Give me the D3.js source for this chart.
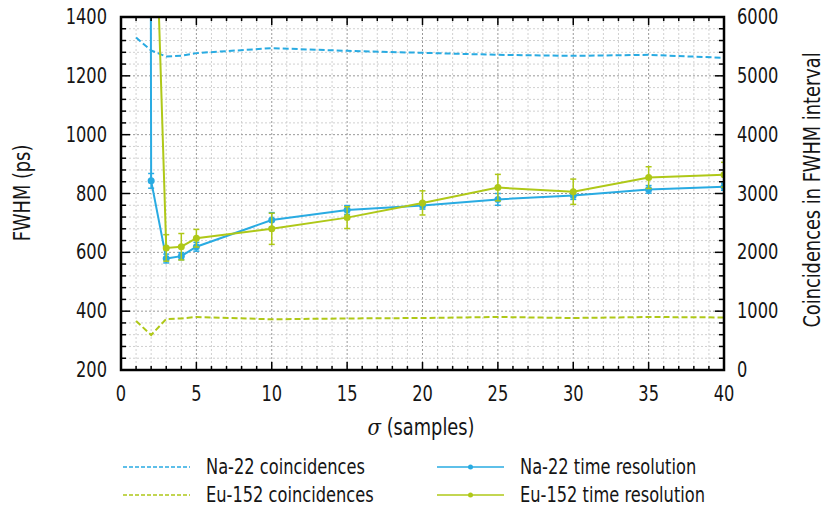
<!DOCTYPE html>
<html>
<head>
<meta charset="utf-8">
<script src="https://cdnjs.cloudflare.com/ajax/libs/d3/7.8.5/d3.min.js"></script>
<style>
  body { margin: 0; background: #fff; }
  svg text { font-family: "DejaVu Sans Condensed", "DejaVu Sans", sans-serif; fill: #151515; font-size: 21px; }
</style>
</head>
<body>
<div id="chart"></div>
<script>
// sigma values (samples)
var sigma = [1, 2, 3, 4, 5, 10, 15, 20, 25, 30, 35, 40];
// time resolution FWHM (ps) with error bars
var naRes    = [30000, 843, 579, 587, 619, 710, 744, 759, 780, 793, 814, 823];
var naResErr = [0, 25, 15, 12, 15, 25, 15, 12, 20, 13, 13, 12];
var euRes    = [30000, 2250, 615, 619, 648, 680, 718, 768, 820, 806, 854, 864];
var euResErr = [0, 0, 45, 45, 30, 53, 37, 41, 45, 43, 37, 42];
// coincidences in FWHM interval
var naCoinc = [5651, 5430, 5329, 5340, 5386, 5471, 5425, 5391, 5357, 5340, 5357, 5306];
var euCoinc = [833, 595, 867, 876, 901, 862, 876, 884, 901, 884, 901, 893];

var xTicks = [0, 5, 10, 15, 20, 25, 30, 35, 40];
var yTicks = [200, 400, 600, 800, 1000, 1200, 1400];
var y2Ticks = [0, 1000, 2000, 3000, 4000, 5000, 6000];

var blue = "#29abe2", green = "#afc818";
var sx = 0.86; // narrow the font to look condensed

var W = 827, H = 513;
var margin = {top: 17, left: 121, right: 103, bottom: 143};
var width = W - margin.left - margin.right,
    height = H - margin.top - margin.bottom;

var svg = d3.select("#chart").append("svg")
  .attr("width", W).attr("height", H);

var g = svg.append("g")
  .attr("transform", "translate(" + margin.left + "," + margin.top + ")");

var x = d3.scaleLinear().domain([0, 40]).range([0, width]);
var y = d3.scaleLinear().domain([200, 1400]).range([height, 0]);
var y2 = d3.scaleLinear().domain([0, 6000]).range([height, 0]);

function place(px, py, rot) {
  return "translate(" + px + "," + py + ")" + (rot ? " rotate(" + rot + ")" : "") + " scale(" + sx + ",1)";
}

// grid
var grid = g.append("g");
grid.selectAll(".vmin").data(d3.range(1, 40)).enter().append("line")
  .attr("x1", x).attr("x2", x).attr("y1", 0).attr("y2", height)
  .attr("stroke", function(d){ return d % 5 ? "#d0d0d0" : "#999"; })
  .attr("stroke-width", 1).attr("stroke-dasharray", "2,2");
grid.selectAll(".hmin").data(d3.range(240, 1400, 40)).enter().append("line")
  .attr("x1", 0).attr("x2", width).attr("y1", y).attr("y2", y)
  .attr("stroke", function(d){ return d % 200 ? "#d0d0d0" : "#999"; })
  .attr("stroke-width", 1).attr("stroke-dasharray", "2,2");

// data
g.append("clipPath").attr("id", "clip").append("rect")
  .attr("width", width).attr("height", height);
var plot = g.append("g").attr("clip-path", "url(#clip)");

function dashed(vals, color) {
  var line = d3.line().x(function(d, i){ return x(sigma[i]); }).y(function(d){ return y2(d); });
  plot.append("path").datum(vals).attr("d", line)
    .attr("fill", "none").attr("stroke", color).attr("stroke-width", 2)
    .attr("stroke-dasharray", "6,3");
}
function solid(vals, errs, color) {
  var line = d3.line().x(function(d, i){ return x(sigma[i]); }).y(function(d){ return y(d); });
  plot.append("path").datum(vals).attr("d", line)
    .attr("fill", "none").attr("stroke", color).attr("stroke-width", 2);
  var pts = plot.append("g").selectAll("g").data(vals).enter().append("g");
  pts.append("line")
    .attr("x1", function(d, i){ return x(sigma[i]); })
    .attr("x2", function(d, i){ return x(sigma[i]); })
    .attr("y1", function(d, i){ return y(d - errs[i]); })
    .attr("y2", function(d, i){ return y(d + errs[i]); })
    .attr("stroke", color).attr("stroke-width", 1.5);
  [-1, 1].forEach(function(s){
    pts.append("line")
      .attr("x1", function(d, i){ return x(sigma[i]) - 3; })
      .attr("x2", function(d, i){ return x(sigma[i]) + 3; })
      .attr("y1", function(d, i){ return y(d + s * errs[i]); })
      .attr("y2", function(d, i){ return y(d + s * errs[i]); })
      .attr("stroke", color).attr("stroke-width", 1.5);
  });
  pts.append("circle")
    .attr("cx", function(d, i){ return x(sigma[i]); })
    .attr("cy", function(d){ return y(d); })
    .attr("r", 3.5).attr("fill", color);
}
dashed(naCoinc, blue);
dashed(euCoinc, green);
solid(naRes, naResErr, blue);
solid(euRes, euResErr, green);

// ticks (inward, mirrored)
var ax = g.append("g").attr("stroke", "#000");
d3.range(0, 41).forEach(function(v){
  var len = v % 5 ? 4 : 8;
  ax.append("line").attr("x1", x(v)).attr("x2", x(v)).attr("y1", height).attr("y2", height - len).attr("stroke-width", 1.5);
  ax.append("line").attr("x1", x(v)).attr("x2", x(v)).attr("y1", 0).attr("y2", len).attr("stroke-width", 1.5);
});
d3.range(200, 1401, 40).forEach(function(v){
  var len = v % 200 ? 5 : 9;
  ax.append("line").attr("x1", 0).attr("x2", len).attr("y1", y(v)).attr("y2", y(v)).attr("stroke-width", 1.5);
});
d3.range(0, 6001, 200).forEach(function(v){
  var len = v % 1000 ? 5 : 9;
  ax.append("line").attr("x1", width).attr("x2", width - len).attr("y1", y2(v)).attr("y2", y2(v)).attr("stroke-width", 1.5);
});
g.append("rect").attr("width", width).attr("height", height)
  .attr("fill", "none").attr("stroke", "#000").attr("stroke-width", 2.5);

// tick labels
g.selectAll(".xl").data(xTicks).enter().append("text")
  .attr("transform", function(d){ return place(x(d), height + 31); })
  .attr("text-anchor", "middle").text(function(d){ return d; });
g.selectAll(".yl").data(yTicks).enter().append("text")
  .attr("transform", function(d){ return place(-14, y(d) + 7); })
  .attr("text-anchor", "end").text(function(d){ return d; });
g.selectAll(".y2l").data(y2Ticks).enter().append("text")
  .attr("transform", function(d){ return place(width + 13, y2(d) + 7); })
  .attr("text-anchor", "start").text(function(d){ return d; });

// axis titles
svg.append("text").attr("transform", place(30, 193, -90))
  .attr("text-anchor", "middle").style("font-size", "23px").text("FWHM (ps)");
svg.append("text").attr("transform", place(820, 190, -90))
  .attr("text-anchor", "middle").style("font-size", "23px").text("Coincidences in FWHM interval");
var xt = svg.append("text").attr("transform", place(421, 435))
  .attr("text-anchor", "middle").style("font-size", "23px");
xt.append("tspan").attr("font-style", "italic").attr("font-family", "DejaVu Serif").text("σ");
xt.append("tspan").text(" (samples)");

// legend
var legend = [
  {label: "Na-22 coincidences", color: blue, dash: true, col: 0, row: 0},
  {label: "Eu-152 coincidences", color: green, dash: true, col: 0, row: 1},
  {label: "Na-22 time resolution", color: blue, dash: false, col: 1, row: 0},
  {label: "Eu-152 time resolution", color: green, dash: false, col: 1, row: 1}
];
var lg = svg.append("g").selectAll("g").data(legend).enter().append("g")
  .attr("transform", function(d){ return "translate(" + (123 + d.col * 314) + "," + (467 + d.row * 28) + ")"; });
lg.append("line").attr("x1", 0).attr("x2", 67).attr("y1", 0).attr("y2", 0)
  .attr("stroke", function(d){ return d.color; }).attr("stroke-width", 1.5)
  .attr("stroke-dasharray", function(d){ return d.dash ? "4,2" : null; });
lg.filter(function(d){ return !d.dash; }).append("circle")
  .attr("cx", 33.5).attr("cy", 0).attr("r", 2.5).attr("fill", function(d){ return d.color; });
lg.append("text").attr("transform", place(83, 7)).text(function(d){ return d.label; });
</script>
</body>
</html>
